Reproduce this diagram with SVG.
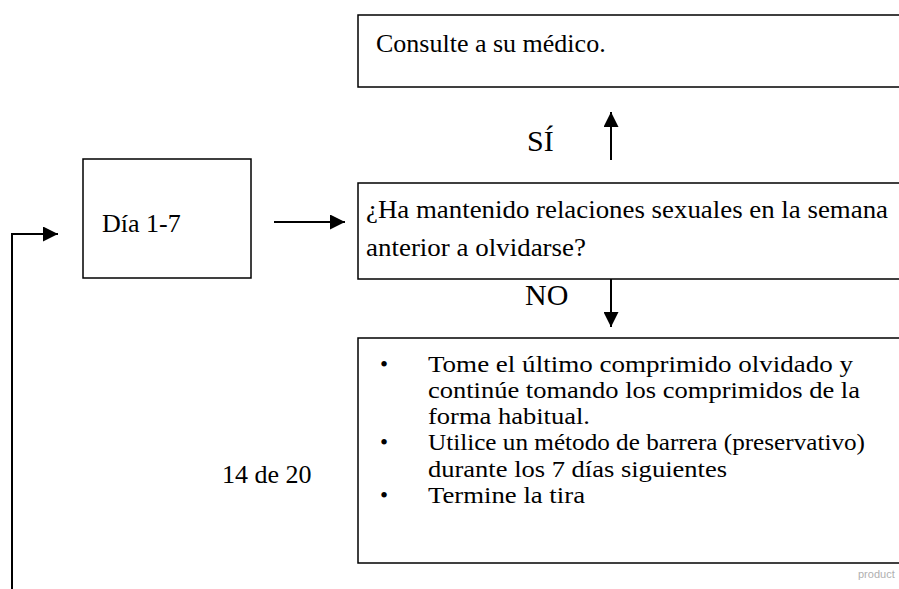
<svg xmlns="http://www.w3.org/2000/svg" width="899" height="589" viewBox="0 0 899 589">
<defs>
<style>
.box{fill:#fff;stroke:#000;stroke-width:1.5}
.t{font-family:"Liberation Serif","Times New Roman",serif;font-size:26px;fill:#000}
.b{font-size:23px}
.big{font-size:30px}
.ln{stroke:#000;stroke-width:2;fill:none}
</style>
<marker id="ah" viewBox="0 0 15 15" refX="15" refY="7.5" markerWidth="15" markerHeight="15" markerUnits="userSpaceOnUse" orient="auto"><path d="M0,0 L15,7.5 L0,15 z" fill="#000"/></marker>
</defs>
<rect width="899" height="589" fill="#fff"/>
<g id="consulte">
<rect class="box" x="358" y="15" width="560" height="72"/>
<text class="t" x="376" y="52">Consulte a su médico.</text>
</g>
<g id="dia">
<rect class="box" x="83" y="159" width="168" height="119"/>
<text class="t" x="102" y="232">Día 1-7</text>
</g>
<g id="pregunta">
<rect class="box" x="358" y="183" width="560" height="96"/>
<text class="t" x="366" y="218" textLength="522" lengthAdjust="spacingAndGlyphs">¿Ha mantenido relaciones sexuales en la semana</text>
<text class="t" x="366" y="256" textLength="220" lengthAdjust="spacingAndGlyphs">anterior a olvidarse?</text>
</g>
<g id="instrucciones">
<rect class="box" x="358" y="338" width="560" height="225" stroke-width="2"/>
<g class="t b">
<text x="380" y="372">•</text><text x="428" y="372" textLength="425" lengthAdjust="spacingAndGlyphs">Tome el último comprimido olvidado y</text>
<text x="428" y="398" textLength="432" lengthAdjust="spacingAndGlyphs">continúe tomando los comprimidos de la</text>
<text x="428" y="424" textLength="162" lengthAdjust="spacingAndGlyphs">forma habitual.</text>
<text x="380" y="450">•</text><text x="428" y="450" textLength="437" lengthAdjust="spacingAndGlyphs">Utilice un método de barrera (preservativo)</text>
<text x="428" y="477" textLength="299" lengthAdjust="spacingAndGlyphs">durante los 7 días siguientes</text>
<text x="380" y="503">•</text><text x="428" y="503" textLength="157" lengthAdjust="spacingAndGlyphs">Termine la tira</text>
</g>
</g>
<g id="labels">
<text class="t big" x="527" y="151">SÍ</text>
<text class="t big" x="525" y="305">NO</text>
<text class="t" x="222" y="483" font-size="29">14 de 20</text>
<text x="858" y="578" font-family="Liberation Sans, Arial, sans-serif" font-size="11" fill="#b0b0b0">product</text>
</g>
<g id="connectors">
<line class="ln" x1="611" y1="160" x2="611" y2="112" marker-end="url(#ah)"/>
<line class="ln" x1="274" y1="222" x2="345" y2="222" marker-end="url(#ah)"/>
<line class="ln" x1="611" y1="279" x2="611" y2="327" marker-end="url(#ah)"/>
<polyline class="ln" points="12,589 12,234 58,234" marker-end="url(#ah)"/>
</g>
</svg>
